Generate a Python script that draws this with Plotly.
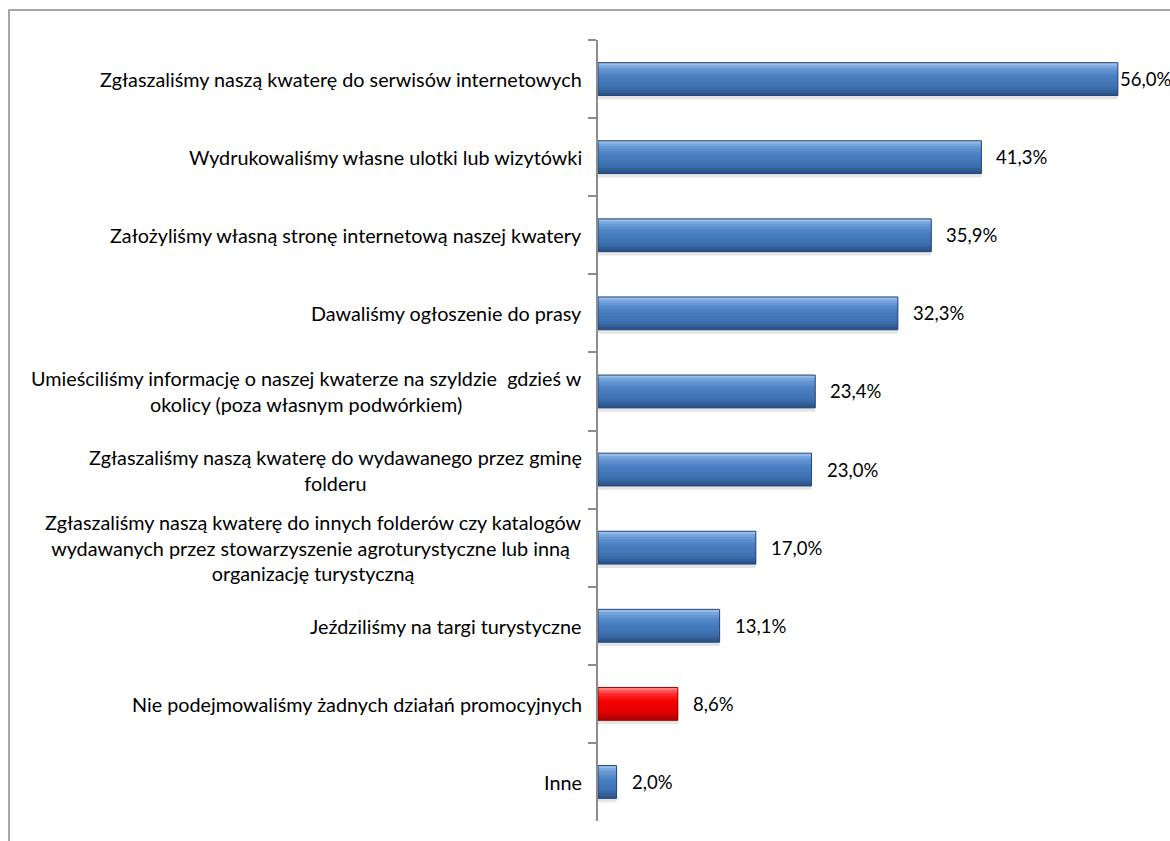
import plotly.graph_objects as go

categories = [
    "Zgłaszaliśmy naszą kwaterę do serwisów internetowych",
    "Wydrukowaliśmy własne ulotki lub wizytówki",
    "Założyliśmy własną stronę internetową naszej kwatery",
    "Dawaliśmy ogłoszenie do prasy",
    "Umieściliśmy informację o naszej kwaterze na szyldzie  gdzieś w<br>okolicy (poza własnym podwórkiem)",
    "Zgłaszaliśmy naszą kwaterę do wydawanego przez gminę<br>folderu",
    "Zgłaszaliśmy naszą kwaterę do innych folderów czy katalogów<br>wydawanych przez stowarzyszenie agroturystyczne lub inną <br>organizację turystyczną",
    "Jeździliśmy na targi turystyczne",
    "Nie podejmowaliśmy żadnych działań promocyjnych",
    "Inne",
]
values = [56.0, 41.3, 35.9, 32.3, 23.4, 23.0, 17.0, 13.1, 8.6, 2.0]
highlight = [False, False, False, False, False, False, False, False, True, False]

LABEL_FONT = "Lato"
VALUE_FONT = "Lato"

BLUE_STOPS = [(0.0, (0xa7, 0xc7, 0xef)), (0.15, (0x6e, 0x9e, 0xd8)), (0.4, (0x4a, 0x80, 0xc3)),
              (0.75, (0x3e, 0x70, 0xb0)), (1.0, (0x2a, 0x50, 0x84))]
RED_STOPS = [(0.0, (0xff, 0x9a, 0x9a)), (0.15, (0xff, 0x3a, 0x3a)), (0.4, (0xf5, 0x00, 0x00)),
             (0.75, (0xe2, 0x00, 0x00)), (1.0, (0xa8, 0x00, 0x00))]


def interp(stops, t):
    for (t0, c0), (t1, c1) in zip(stops[:-1], stops[1:]):
        if t0 <= t <= t1:
            f = (t - t0) / (t1 - t0) if t1 > t0 else 0
            return "rgb(%d,%d,%d)" % tuple(round(a + (b - a) * f) for a, b in zip(c0, c1))
    return "rgb(%d,%d,%d)" % stops[-1][1]


BAR_W = 0.42
N_BANDS = 12
step = BAR_W / N_BANDS
fig = go.Figure()
# soft shadow
fig.add_trace(go.Bar(x=values, y=categories, orientation="h",
                     offset=-BAR_W / 2 + 0.05, width=BAR_W,
                     marker=dict(color="rgba(0,0,0,0.10)", line=dict(width=0)),
                     hoverinfo="skip", showlegend=False))
for i in range(N_BANDS):
    t = (i + 0.5) / N_BANDS
    cols = [interp(RED_STOPS if h else BLUE_STOPS, t) for h in highlight]
    w = step * 2 if i < N_BANDS - 1 else step
    fig.add_trace(go.Bar(x=values, y=categories, orientation="h",
                         offset=-BAR_W / 2 + i * step,
                         width=w,
                         marker=dict(color=cols, line=dict(width=0)),
                         hoverinfo="skip", showlegend=False))
# outline
line_col = ["#9a0000" if h else "#23467a" for h in highlight]
fig.add_trace(go.Bar(x=values, y=categories, orientation="h", width=BAR_W,
                     marker=dict(color="rgba(0,0,0,0)", line=dict(color=line_col, width=1)),
                     hoverinfo="skip", showlegend=False))

annotations = []
for c, v in zip(categories, values):
    annotations.append(dict(x=0, xref="paper", y=c, yref="y", text=c,
                            xanchor="right", yanchor="middle", align="center",
                            xshift=-14, showarrow=False,
                            font=dict(family=LABEL_FONT, size=19.8, color="#000000")))
    annotations.append(dict(x=v, xref="x", y=c, yref="y",
                            text=f"{v:.1f}".replace(".", ",") + "%",
                            xanchor="left", yanchor="middle",
                            xshift=0 if v > 50 else 13, showarrow=False,
                            font=dict(family=VALUE_FONT, size=18.5, color="#000000")))

fig.update_layout(
    width=1170, height=841,
    margin=dict(l=598, r=15, t=40, b=20),
    paper_bgcolor="white", plot_bgcolor="white",
    barmode="overlay",
    annotations=annotations,
    xaxis=dict(range=[0, 60], visible=False, showgrid=False, zeroline=False),
    yaxis=dict(type="category", categoryorder="array", categoryarray=categories,
               autorange="reversed", showticklabels=False, showgrid=False,
               showline=True, linecolor="#8c8c8c", linewidth=1.5,
               ticks="outside", tickson="boundaries", ticklen=8,
               tickcolor="#8c8c8c", tickwidth=1.5, zeroline=False),
    shapes=[dict(type="rect", xref="paper", yref="paper",
                 x0=(9 - 598) / 557, x1=(1180 - 598) / 557,
                 y0=-(30 / 781), y1=1 + 30 / 781,
                 line=dict(color="#8c8c8c", width=1.5), layer="below")],
)

fig.write_html("out.html")
